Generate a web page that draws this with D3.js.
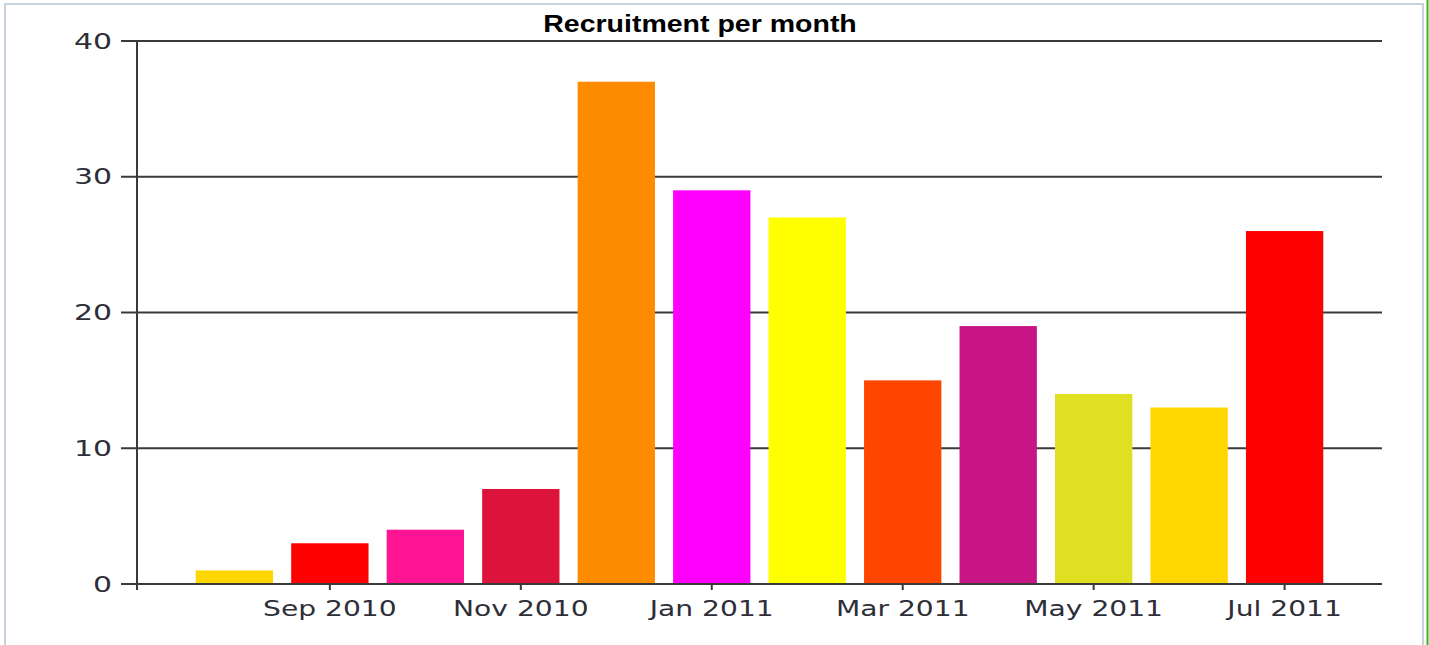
<!DOCTYPE html>
<html>
<head>
<meta charset="utf-8">
<script src="https://cdn.jsdelivr.net/npm/d3@7"></script>
<style>
  body { margin: 0; background: #fff; }
  svg { display: block; }
</style>
</head>
<body>
<svg id="chart" width="1429" height="645"></svg>
<script>
// data
var months = ["Aug 2010", "Sep 2010", "Oct 2010", "Nov 2010", "Dec 2010", "Jan 2011",
              "Feb 2011", "Mar 2011", "Apr 2011", "May 2011", "Jun 2011", "Jul 2011"];
var recruits = [1, 3, 4, 7, 37, 29, 27, 15, 19, 14, 13, 26];
var barColors = ["#FFD700", "#FF0000", "#FF1493", "#DC143C", "#FF8C00", "#FF00FF",
                 "#FFFF00", "#FF4500", "#C71585", "#DEE021", "#FFD700", "#FF0000"];
var yTicks = [0, 10, 20, 30, 40];
var shownLabels = ["Sep 2010", "Nov 2010", "Jan 2011", "Mar 2011", "May 2011", "Jul 2011"];

var svg = d3.select("#chart");
var stretch = 1.28; // picture is stretched sideways

var area = {left: 137, right: 1382, top: 41, bottom: 584};

// frame around the chart
svg.append("rect")
    .attr("x", 5).attr("y", 4)
    .attr("width", 1418).attr("height", 660)
    .attr("fill", "#fff")
    .attr("stroke", "#c6d1dd")
    .attr("stroke-width", 2);
svg.append("line")
    .attr("x1", 1427.5).attr("x2", 1427.5)
    .attr("y1", 0).attr("y2", 645)
    .attr("stroke", "#3cb521")
    .attr("stroke-width", 2);

var xScale = d3.scaleBand()
    .domain(months)
    .range([area.left, area.right])
    .paddingInner(0.19)
    .paddingOuter(0.615);

var yScale = d3.scaleLinear()
    .domain([0, 40])
    .range([area.bottom, area.top]);

// grid lines (reach past the axis as tick marks)
svg.append("g")
    .selectAll("line")
    .data(yTicks)
    .enter()
    .append("line")
    .attr("x1", area.left - 16)
    .attr("x2", area.right)
    .attr("y1", function (d) { return yScale(d); })
    .attr("y2", function (d) { return yScale(d); })
    .attr("stroke", "#3a3a3a")
    .attr("stroke-width", 2);

// bars
svg.append("g")
    .selectAll("rect")
    .data(recruits)
    .enter()
    .append("rect")
    .attr("x", function (d, i) { return xScale(months[i]); })
    .attr("y", function (d) { return yScale(d); })
    .attr("width", xScale.bandwidth())
    .attr("height", function (d) { return yScale(0) - yScale(d); })
    .attr("fill", function (d, i) { return barColors[i]; });

// x axis line again on top of bars
svg.append("line")
    .attr("x1", area.left - 16).attr("x2", area.right)
    .attr("y1", yScale(0)).attr("y2", yScale(0))
    .attr("stroke", "#3a3a3a").attr("stroke-width", 2);

// y axis
var yAxis = svg.append("g")
    .attr("transform", "translate(" + area.left + ",0)")
    .call(d3.axisLeft(yScale).tickValues(yTicks).tickSize(0).tickPadding(0));
yAxis.select(".domain").remove();
yAxis.selectAll("text")
    .attr("x", null)
    .attr("transform", "translate(-25,0) scale(1.36,1)")
    .style("font-family", "'DejaVu Sans', Verdana, sans-serif")
    .style("font-size", "22px")
    .attr("fill", "#2e2e38");
svg.append("line")
    .attr("x1", area.left).attr("x2", area.left)
    .attr("y1", area.top).attr("y2", area.bottom + 6)
    .attr("stroke", "#3a3a3a").attr("stroke-width", 2);

// x axis ticks + labels
var xAxis = svg.append("g")
    .attr("transform", "translate(0," + area.bottom + ")")
    .call(d3.axisBottom(xScale).tickValues(shownLabels).tickSize(6).tickPadding(10));
xAxis.select(".domain").remove();
xAxis.selectAll(".tick line")
    .attr("stroke", "#3a3a3a").attr("stroke-width", 2);
xAxis.selectAll("text")
    .attr("transform", "scale(" + stretch + ",1)")
    .attr("x", 0)
    .style("font-family", "'DejaVu Sans', Verdana, sans-serif")
    .style("font-size", "22px")
    .attr("fill", "#2e2e38");

// title
svg.append("text")
    .attr("transform", "translate(700,32) scale(1.24,1)")
    .attr("text-anchor", "middle")
    .style("font-family", "'Liberation Sans', Arial, sans-serif")
    .style("font-weight", "bold")
    .style("font-size", "23px")
    .attr("fill", "#000")
    .text("Recruitment per month");
</script>
</body>
</html>
